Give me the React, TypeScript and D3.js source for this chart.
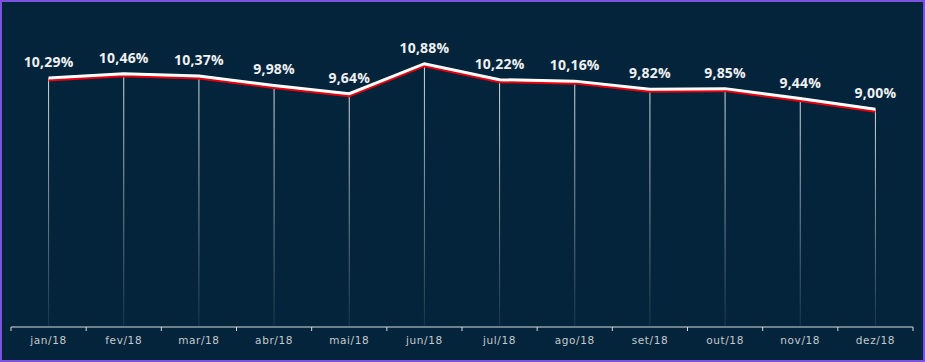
import React, { useEffect, useRef } from 'react';
import * as d3 from 'd3';

const months = ['jan/18', 'fev/18', 'mar/18', 'abr/18', 'mai/18', 'jun/18', 'jul/18', 'ago/18', 'set/18', 'out/18', 'nov/18', 'dez/18'];
const rates = [10.29, 10.46, 10.37, 9.98, 9.64, 10.88, 10.22, 10.16, 9.82, 9.85, 9.44, 9.0];

const W = 925;
const H = 362;

const App = () => {
  const svgRef = useRef<SVGSVGElement>(null);

  useEffect(() => {
    if (!svgRef.current) return;
    const svg = d3.select(svgRef.current);
    svg.selectAll('*').remove();

    svg.append('rect')
      .attr('x', 1).attr('y', 1)
      .attr('width', W - 2).attr('height', H - 2)
      .attr('fill', '#03243a')
      .attr('stroke', '#7a52dc')
      .attr('stroke-width', 2);

    const defs = svg.append('defs');
    const grad = defs.append('linearGradient')
      .attr('id', 'dropFade')
      .attr('x1', 0).attr('y1', 0).attr('x2', 0).attr('y2', 1);
    grad.append('stop').attr('offset', '0%').attr('stop-color', '#ffffff').attr('stop-opacity', 0.85);
    grad.append('stop').attr('offset', '100%').attr('stop-color', '#ffffff').attr('stop-opacity', 0.08);

    const x = d3.scaleBand<string>().domain(months).range([11, 913]);
    const y = d3.scaleLinear().domain([0, 12]).range([327, 36.6]);
    const cx = (m: string) => (x(m) ?? 0) + x.bandwidth() / 2;

    // drop lines from each point to the axis
    svg.append('g')
      .selectAll('rect')
      .data(rates)
      .enter()
      .append('rect')
      .attr('x', (d, i) => cx(months[i]) - 0.5)
      .attr('y', d => y(d))
      .attr('width', 1)
      .attr('height', d => y(0) - y(d))
      .attr('fill', 'url(#dropFade)');

    const line = d3.line<number>()
      .x((d, i) => cx(months[i]))
      .y(d => y(d));

    svg.append('path')
      .attr('d', line(rates))
      .attr('transform', 'translate(0,2)')
      .attr('fill', 'none')
      .attr('stroke', '#e8000d')
      .attr('stroke-width', 3);

    svg.append('path')
      .attr('d', line(rates))
      .attr('fill', 'none')
      .attr('stroke', '#ffffff')
      .attr('stroke-width', 3);

    // value labels
    svg.append('g')
      .selectAll('text')
      .data(rates)
      .enter()
      .append('text')
      .attr('x', (d, i) => cx(months[i]))
      .attr('y', d => y(d) - 11)
      .attr('text-anchor', 'middle')
      .attr('fill', '#eef0f2')
      .style('font-family', "'Open Sans', sans-serif")
      .style('font-weight', 700)
      .style('font-size', '14px')
      .style('letter-spacing', '0.2px')
      .text(d => d.toFixed(2).replace('.', ',') + '%');

    // x axis
    const axis = svg.append('g').attr('transform', `translate(0,${y(0)})`);
    axis.append('line')
      .attr('x1', 11).attr('x2', 913)
      .attr('stroke', '#d8dce0').attr('stroke-width', 1.2);
    const edges = months.map(m => x(m) ?? 0).concat([913]);
    axis.selectAll('.tick')
      .data(edges)
      .enter()
      .append('line')
      .attr('x1', d => d).attr('x2', d => d)
      .attr('y1', 0).attr('y2', 4)
      .attr('stroke', '#d8dce0');
    axis.selectAll('.lbl')
      .data(months)
      .enter()
      .append('text')
      .attr('x', d => cx(d))
      .attr('y', 17)
      .attr('text-anchor', 'middle')
      .attr('fill', '#c4cad0')
      .style('font-family', "'DejaVu Sans', sans-serif")
      .style('font-size', '10.5px')
      .style('letter-spacing', '0.6px')
      .text(d => d);
  }, []);

  return (
    <svg ref={svgRef} width={W} height={H}
      style={{ position: 'absolute', left: 0, top: 0, display: 'block' }} />
  );
};

export default App;
